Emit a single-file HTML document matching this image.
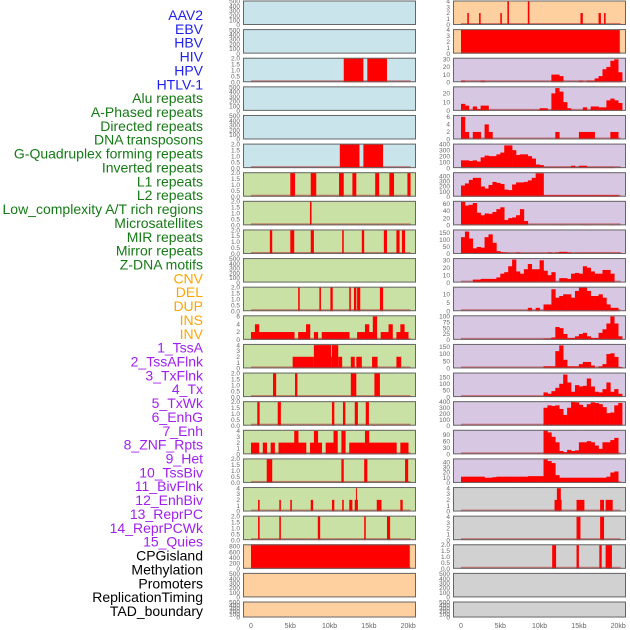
<!DOCTYPE html>
<html><head><meta charset="utf-8">
<style>
body{margin:0;background:#fff;width:630px;height:630px;overflow:hidden}
svg{display:block;font-family:"Liberation Sans",sans-serif}
</style></head>
<body>
<svg id="chart" width="630" height="630" viewBox="0 0 630 630"></svg>
<script>
// ---------- labels ----------
const trackLabels = ["AAV2","EBV","HBV","HIV","HPV","HTLV-1","Alu repeats","A-Phased repeats","Directed repeats","DNA transposons","G-Quadruplex forming repeats","Inverted repeats","L1 repeats","L2 repeats","Low_complexity A/T rich regions","Microsatellites","MIR repeats","Mirror repeats","Z-DNA motifs","CNV","DEL","DUP","INS","INV","1_TssA","2_TssAFlnk","3_TxFlnk","4_Tx","5_TxWk","6_EnhG","7_Enh","8_ZNF_Rpts","9_Het","10_TssBiv","11_BivFlnk","12_EnhBiv","13_ReprPC","14_ReprPCWk","15_Quies","CPGisland","Methylation","Promoters","ReplicationTiming","TAD_boundary"];
const labelGroups = [6,13,5,15,5];
const xTickKb = [0,5,10,15,20];
const xTickLabels = ["0","5kb","10kb","15kb","20kb"];

// ---------- left column (segments: [startKb, endKb, value]) ----------
const L2 = [[11.8,14.3,2],[14.8,17.3,2]];
const L5 = [[11.3,13.8,2],[14.3,16.8,2]];
const L6 = [[5.0,5.6,2],[7.6,8.3,2],[11.2,11.8,2],[12.9,13.4,2],[15.8,16.3,2],[17.6,18.2,2],[19.9,20.3,2]];
const L7 = [[7.5,7.7,2]];
const L8 = [[2.4,2.7,2],[5.0,5.5,2],[7.6,8.0,2],[11.6,11.8,2],[14.1,14.4,2],[16.9,17.3,2],[18.5,18.9,2],[19.2,19.6,2]];
const L10 = [[6.0,6.2,2],[8.7,8.9,2],[10.1,10.4,2],[12.5,12.7,2],[13.1,13.4,2],[13.5,13.9,2],[16.4,16.8,2]];
const L11 = [2,4,2,2,2,2,2,2,2,2,2,0,2,2,4,0,2,0,2,2,2,2,2,2,2,0,0,2,2,4,2,6,0,2,2,4,0,2,4,2,0];
const L12 = [[5.3,8.0,2],[8.0,10.2,4],[10.2,10.3,2],[10.3,11.1,4],[11.1,11.6,2],[12.7,13.2,2],[13.4,14.1,2],[15.4,16.1,2],[18.5,19.1,2]];
const L13 = [[2.8,3.2,2],[5.6,5.9,2],[12.7,13.4,2],[15.7,16.4,2]];
const L14 = [[0.8,1.1,2],[3.4,3.8,2],[10.3,10.6,2],[11.7,12.0,2],[13.2,13.6,2],[14.6,15.0,2]];
const L15 = [2,2,0,2,0,2,0,2,2,2,2,4,2,2,0,2,4,2,0,2,2,4,0,4,0,2,2,2,2,4,2,2,2,2,2,2,2,0,2,2,0];
const L16 = [[2.0,2.7,2],[11.5,11.8,2],[14.4,14.8,2],[19.6,20.0,2]];
const L17 = [[0.9,1.1,2],[3.6,3.8,2],[5.0,5.2,2],[7.6,7.9,2],[10.3,10.6,2],[11.6,11.8,2],[12.5,12.9,2],[13.2,13.6,2],[13.35,13.45,4],[16.0,16.6,2],[19.0,19.3,2]];
const L18 = [[0.9,1.1,2],[3.6,3.8,2],[8.5,8.8,2],[14.4,14.6,2],[17.3,17.7,2]];
const L19 = [[0,20.2,880]];

// ---------- right column (0.5kb bins from 0 kb, or segments) ----------
const R0 = [[0.8,1.0,2],[2.3,2.5,2],[5.0,5.2,2],[5.9,6.1,4],[8.5,8.7,4],[15.2,15.5,2],[17.5,17.8,2],[18.2,18.4,2]];
const R1 = [[0,20.2,4]];
const R2 = [2,0,0,0,0,2,0,0,0,0,0,0,0,0,0,0,0,0,0,0,0,0,0,10,10,8,0,0,0,0,2,0,2,2,5,8,17,20,28,30,13];
const R3 = [8,6,0,5,2,6,6,0,0,0,0,0,0,0,0,0,0,0,0,0,3,3,0,20,26,22,10,3,0,0,0,4,0,5,5,4,4,12,14,12,9];
const R4 = [6,2,0,2,2,0,4,2,0,0,0,0,0,0,0,0,0,0,0,0,0,0,0,0,2,0,0,0,0,0,2,2,2,2,0,0,0,0,2,2,0];
const R5 = [130,130,120,130,110,180,210,200,200,230,260,380,380,300,220,230,230,200,160,60,50,20,20,20,20,20,20,20,40,20,40,40,20,20,20,20,20,20,20,0,0];
const R6 = [220,260,330,370,370,200,160,230,290,270,250,140,130,240,280,280,290,320,370,460,460,30,30,30,30,30,30,30,30,30,30,30,30,30,30,30,30,30,30,30,0];
const R7 = [65,55,57,62,35,28,33,32,37,45,50,15,20,22,28,45,12,0,0,0,0,0,0,0,0,2,0,0,0,0,0,2,2,0,0,0,0,0,2,0,0];
const R8 = [120,160,110,40,50,45,120,140,80,20,12,10,5,0,10,5,0,0,0,0,0,0,10,0,10,15,15,10,0,8,8,8,8,8,8,8,8,8,8,8,8];
const R9 = [0,0,0,4,4,5,5,5,5,7,12,14,22,31,15,12,18,25,18,18,30,16,10,14,0,6,6,5,12,13,12,22,20,15,12,12,17,17,12,0,0];
const R10 = [0,0,0,0,0,0,0,0,0,0,0,0,0,0,0,0,0,2,0,2,0,4,4,13,8,9,10,10,8,12,14,14,12,9,9,10,8,4,2,2,0];
const R11 = [0,0,0,0,0,0,0,0,0,0,0,0,0,0,0,0,0,0,0,0,0,5,5,10,55,50,25,8,8,15,25,30,15,8,8,30,45,70,100,70,15];
const R12 = [0,0,0,0,0,0,0,0,0,0,0,0,0,0,0,0,0,0,0,0,0,15,15,15,120,160,60,15,15,15,30,45,45,20,0,15,30,100,105,80,10];
const R13 = [0,0,0,0,0,0,0,0,0,0,0,0,0,0,0,0,0,0,0,0,0,35,25,45,70,100,170,110,40,90,80,85,140,80,40,35,60,110,40,60,25];
const R14 = [0,0,0,0,0,0,0,0,0,0,0,0,0,0,0,0,0,0,0,0,0,300,340,330,340,280,180,300,400,390,350,310,360,390,380,360,310,210,220,340,380];
const R15 = [0,0,0,0,0,0,0,0,0,0,0,0,0,0,0,0,0,0,0,0,0,110,100,80,55,15,10,20,15,18,55,55,60,55,40,25,55,55,65,75,0];
const R16 = [12,12,12,12,12,12,10,10,11,12,12,12,12,12,12,12,12,13,13,13,13,45,42,38,15,10,10,10,10,10,10,10,10,10,10,10,10,12,20,22,0];
const R17 = [[11.9,12.8,2],[12.2,12.7,4],[14.7,15.7,2],[17.7,18.2,2],[18.4,19.3,2]];
const R18 = [[14.7,15.2,4],[17.7,18.2,4]];
const R19 = [[11.6,12.1,2],[14.7,15.0,2],[17.6,17.9,2],[18.4,19.2,2]];

const emptyTicks = [0,100,200,300,400,500];
const ticks2 = [0,0.5,1,1.5,2];
const ticks4 = [0,1,2,3,4];

const BLUE="#cae4ec", PEACH="#fed0a0", PURPLE="#d8c7e3", GREEN="#c9e1a4", GREY="#d1d1d1";

const leftPanels = [
 [null,"e",520,emptyTicks,0,BLUE],[null,"e",520,emptyTicks,0,BLUE],
 [L2,"s",2.05,ticks2,1,BLUE],[null,"e",520,emptyTicks,0,BLUE],[null,"e",520,emptyTicks,0,BLUE],
 [L5,"s",2.05,ticks2,1,BLUE],[L6,"s",2.05,ticks2,1,GREEN],[L7,"s",2.05,ticks2,1,GREEN],
 [L8,"s",2.05,ticks2,1,GREEN],[null,"e",520,emptyTicks,0,GREEN],[L10,"s",2.05,ticks2,1,GREEN],
 [L11,"b",6.3,[0,2,4,6],0,GREEN],[L12,"s",4.2,ticks4,0,GREEN],[L13,"s",2.05,ticks2,1,GREEN],
 [L14,"s",2.05,ticks2,1,GREEN],[L15,"b",4.2,ticks4,0,GREEN],[L16,"s",2.05,ticks2,1,GREEN],
 [L17,"s",4.2,ticks4,0,GREEN],[L18,"s",2.05,ticks2,1,GREEN],[L19,"s",880,[0,200,400,600,800],0,PEACH],
 [null,"e",520,emptyTicks,0,PEACH],[null,"e",520,emptyTicks,0,PEACH]
];
const rightPanels = [
 [R0,"s",4.1,ticks4,0,PEACH],[R1,"s",4.1,ticks4,0,PEACH],
 [R2,"b",32,[0,10,20,30],0,PURPLE],[R3,"b",28,[0,10,20],0,PURPLE],[R4,"b",6.5,[0,2,4,6],0,PURPLE],
 [R5,"b",410,[0,100,200,300,400],0,PURPLE],[R6,"b",480,[0,100,200,300,400],0,PURPLE],
 [R7,"b",68,[0,20,40,60],0,PURPLE],[R8,"b",175,[0,50,100,150],0,PURPLE],[R9,"b",33,[0,10,20,30],0,PURPLE],
 [R10,"b",14.5,[0,5,10],0,PURPLE],[R11,"b",105,[0,25,50,75,100],0,PURPLE],[R12,"b",170,[0,50,100,150],0,PURPLE],
 [R13,"b",185,[0,50,100,150],0,PURPLE],[R14,"b",410,[0,100,200,300,400],0,PURPLE],[R15,"b",112,[0,30,60,90],0,PURPLE],
 [R16,"b",47,[0,10,20,30,40],0,PURPLE],[R17,"s",4.2,ticks4,0,GREY],[R18,"s",4.2,ticks4,0,GREY],
 [R19,"s",2.05,ticks2,1,GREY],[null,"e",520,emptyTicks,0,GREY],[null,"e",520,emptyTicks,0,GREY]
];

const NS="http://www.w3.org/2000/svg";
const svg=document.getElementById("chart");
function mk(tag,attrs,parent){const e=document.createElementNS(NS,tag);for(const k in attrs)e.setAttribute(k,attrs[k]);(parent||svg).appendChild(e);return e;}

const groupColors=["#1f1ff0","#157a15","#ffa500","#a020f0","#000000"];
let li=0;
labelGroups.forEach((n,g)=>{for(let k=0;k<n;k++){
  const t=mk("text",{x:203,y:15+13.86*li+5,"text-anchor":"end","font-size":"14",fill:groupColors[g]});
  t.textContent=trackLabels[li];
  
  
  li++;}});

function rowGeom(i){const top=0.5+28.62*i;return {top:top,h:(i===21?16:24.5)};}
function drawColumn(panels,x0,side){
  const xs=kb=>x0+8+kb*7.86;
  panels.forEach((p,i)=>{
    const [data,kind,ymax,ticks,dec,bg]=p;
    const g=rowGeom(i);
    const grp=mk("g",{});
    
    
    const bot=g.top+g.h;
    const ys=v=>bot-v/ymax*g.h;
    mk("rect",{x:x0,y:g.top,width:173,height:g.h,fill:bg},grp);
    if(kind!=="e"){
      mk("rect",{x:xs(0),y:bot-2,width:xs(20.3)-xs(0),height:2,fill:"rgba(190,40,40,0.55)"},grp);
    }
    if(kind==="s"){
      data.forEach(s=>{const r=mk("rect",{x:xs(s[0]),y:ys(Math.min(s[2],ymax)),width:Math.max(1,xs(s[1])-xs(s[0])),height:bot-ys(Math.min(s[2],ymax)),fill:"#ff0000"},grp);
        
        });
    } else if(kind==="b"){
      data.forEach((v,k)=>{if(v<=0)return;const r=mk("rect",{x:xs(k*0.5),y:ys(v),width:xs(0.5)-xs(0)+0.3,height:bot-ys(v),fill:"#ff0000"},grp);
        
        });
    }
    mk("rect",{x:x0+0.5,y:g.top+0.5,width:172,height:g.h-1,fill:"none",stroke:"#666","stroke-width":"1"},grp);
    ticks.forEach(t=>{const tx=mk("text",{x:x0-3,y:ys(t)+2.2,"text-anchor":"end","font-size":"6.5",fill:"#666"},grp);
      tx.textContent=t.toFixed(dec);
      
      });
  });
  xTickKb.forEach((k,j)=>{const t=mk("text",{x:xs(k),y:628,"text-anchor":"middle","font-size":"7",fill:"#666"});
    t.textContent=xTickLabels[j];
    
    });
}
drawColumn(leftPanels,243,"left");
drawColumn(rightPanels,453,"right");
</script>
</body></html>
